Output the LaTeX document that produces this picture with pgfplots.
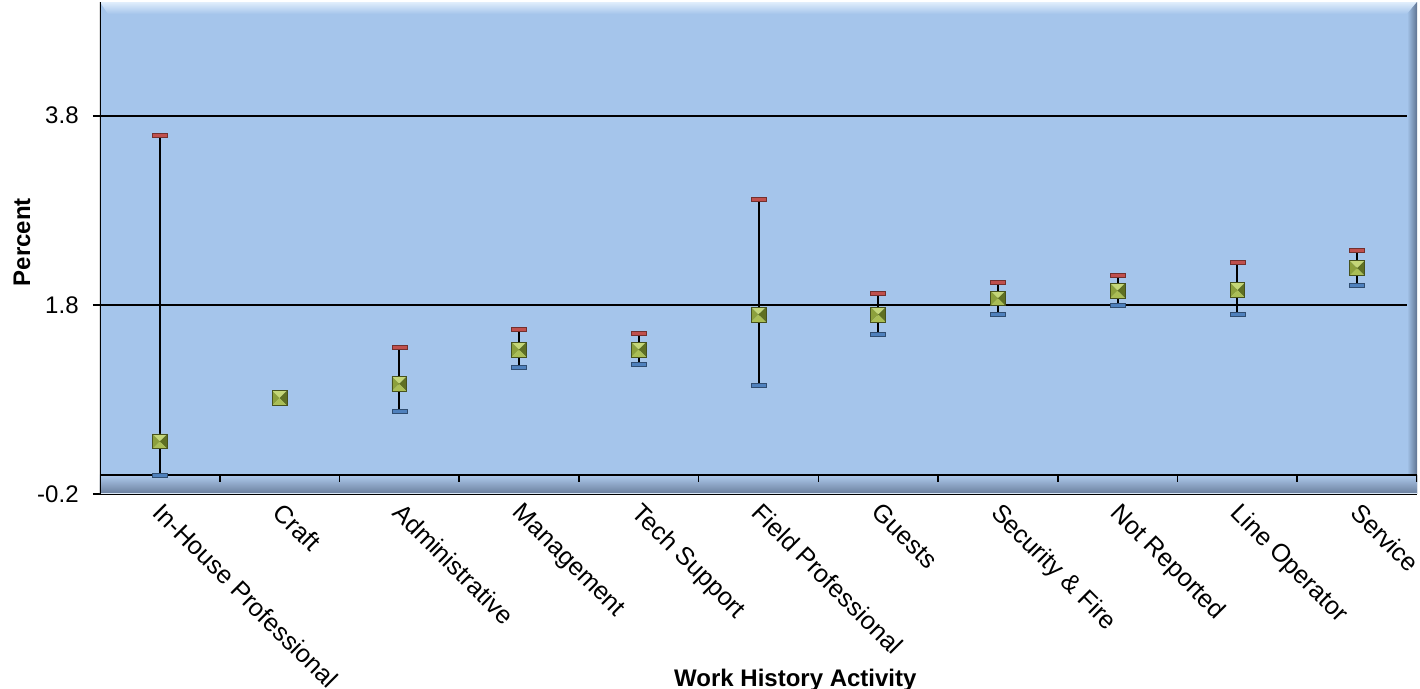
\documentclass[border=0pt]{standalone}
\usepackage{pgfplots}
\pgfplotsset{compat=1.18}
\usepackage{pgfplotstable}
\usepackage{fontspec}
\setmainfont{Liberation Sans}

\definecolor{bgblue}{RGB}{165,197,235}
\definecolor{hiblue}{RGB}{225,238,252}
\definecolor{rightdark}{RGB}{95,115,145}
\definecolor{floortop}{RGB}{175,203,238}
\definecolor{floorbot}{RGB}{105,125,155}
\definecolor{capred}{RGB}{192,80,77}
\definecolor{capblue}{RGB}{79,129,189}
\definecolor{pyrtop}{RGB}{196,214,120}
\definecolor{pyrleft}{RGB}{140,160,60}
\definecolor{pyrright}{RGB}{95,112,35}
\definecolor{pyrbot}{RGB}{170,190,85}
\definecolor{pyredge}{RGB}{70,82,30}

% square pyramid marker
\pgfdeclareplotmark{pyr}{%
  \pgfpathmoveto{\pgfqpoint{-\pgfplotmarksize}{\pgfplotmarksize}}%
  \pgfpathlineto{\pgfqpoint{\pgfplotmarksize}{\pgfplotmarksize}}%
  \pgfpathlineto{\pgfpointorigin}\pgfpathclose
  \pgfsetfillcolor{pyrtop}\pgfusepath{fill}%
  \pgfpathmoveto{\pgfqpoint{-\pgfplotmarksize}{\pgfplotmarksize}}%
  \pgfpathlineto{\pgfqpoint{-\pgfplotmarksize}{-\pgfplotmarksize}}%
  \pgfpathlineto{\pgfpointorigin}\pgfpathclose
  \pgfsetfillcolor{pyrleft}\pgfusepath{fill}%
  \pgfpathmoveto{\pgfqpoint{\pgfplotmarksize}{\pgfplotmarksize}}%
  \pgfpathlineto{\pgfqpoint{\pgfplotmarksize}{-\pgfplotmarksize}}%
  \pgfpathlineto{\pgfpointorigin}\pgfpathclose
  \pgfsetfillcolor{pyrright}\pgfusepath{fill}%
  \pgfpathmoveto{\pgfqpoint{-\pgfplotmarksize}{-\pgfplotmarksize}}%
  \pgfpathlineto{\pgfqpoint{\pgfplotmarksize}{-\pgfplotmarksize}}%
  \pgfpathlineto{\pgfpointorigin}\pgfpathclose
  \pgfsetfillcolor{pyrbot}\pgfusepath{fill}%
  \pgfsetlinewidth{0.4pt}\pgfsetstrokecolor{pyredge}%
  \pgfpathrectangle{\pgfqpoint{-\pgfplotmarksize}{-\pgfplotmarksize}}{\pgfqpoint{2\pgfplotmarksize}{2\pgfplotmarksize}}%
  \pgfusepath{stroke}%
}
% flat error cap
\pgfdeclareplotmark{cap}{%
  \pgfpathrectangle{\pgfqpoint{-3.75pt}{-1pt}}{\pgfqpoint{7.5pt}{2pt}}%
  \pgfusepathqfillstroke
}

% mean with lower and upper limits
\pgfplotstableread{
x y lo hi
0 0.356 0.000 3.590
1 0.813 0.813 0.813
2 0.964 0.679 1.347
3 1.326 1.136 1.540
4 1.326 1.175 1.494
5 1.695 0.946 2.911
6 1.695 1.491 1.923
7 1.867 1.699 2.042
8 1.948 1.790 2.113
9 1.955 1.695 2.250
10 2.187 2.008 2.377
}\worktable

\begin{document}
\begin{tikzpicture}
\begin{axis}[
  name=ax,
  scale only axis,
  width=658.5pt, height=246pt,
  xmin=-0.5, xmax=10.5,
  ymin=-0.2, ymax=5.0,
  axis background/.style={fill=bgblue},
  axis line style={draw=none},
  xtick={0,...,10},
  xticklabels={In-House Professional, Craft, Administrative, Management, Tech Support, Field Professional, Guests, Security \& Fire, Not Reported, Line Operator, Service},
  xtick pos=bottom, ytick pos=left,
  x tick style={draw=none},
  ytick={-0.2,1.8,3.8},
  y tick style={black, line width=1pt},
  tick align=outside, major tick length=3.5pt,
  ymajorgrids, grid style={black, line width=1pt},
  ticklabel style={font=\fontsize{12}{14}\selectfont},
  /pgf/number format/.cd, fixed, fixed zerofill, precision=1, assume math mode=true,
  /pgfplots/.cd,
  yticklabel style={inner sep=0pt, xshift=-7pt},
  xticklabel style={font=\fontsize{12.6}{14}\selectfont, xshift=2.5pt, yshift=1.5pt, rotate=-45, anchor=north west, inner sep=1pt},
  xlabel={Work History Activity},
  ylabel={Percent},
  label style={font=\bfseries\fontsize{12}{14}\selectfont},
  xlabel style={at={(axis description cs:0.528,-0.392)}, anchor=base},
  ylabel style={at={(axis description cs:-0.0592,0.512)}, anchor=center},
]
% bevelled frame
\shade[top color=hiblue, bottom color=bgblue]
  (axis cs:-0.5,5.0) -- (axis cs:10.5,5.0) -- ([shift={(-5pt,-6pt)}]axis cs:10.5,5.0)
  -- ([shift={(4pt,-6pt)}]axis cs:-0.5,5.0) -- cycle;
\shade[left color=bgblue, right color=rightdark]
  (axis cs:10.5,5.0) -- (axis cs:10.5,-0.2) -- ([shift={(-5pt,0pt)}]axis cs:10.5,0)
  -- ([shift={(-5pt,-6pt)}]axis cs:10.5,5.0) -- cycle;
\shade[top color=floortop, bottom color=floorbot]
  (axis cs:-0.5,0) rectangle (axis cs:10.5,-0.2);
\draw[white!60!bgblue, line width=0.8pt] (axis cs:-0.5,-0.2) -- (axis cs:10.5,-0.2);
\draw[line width=1pt] (axis cs:-0.5,-0.2) -- (axis cs:-0.5,5.0);
\draw[line width=1pt] (axis cs:-0.5,0) -- (axis cs:10.5,0);
\pgfplotsinvokeforeach{0.5,1.5,...,10.5}{%
  \draw[line width=0.8pt] (axis cs:#1,0) -- ([yshift=-3.5pt]axis cs:#1,0);}

\addplot[only marks, mark=cap, mark options={fill=capred, draw=capred!60!black, line width=0.3pt},
  skip coords between index={1}{2}] table[x=x, y=hi] {\worktable};
\addplot[only marks, mark=cap, mark options={fill=capblue, draw=capblue!60!black, line width=0.3pt},
  skip coords between index={1}{2}] table[x=x, y=lo] {\worktable};
\addplot[only marks, mark=pyr, mark size=3.7pt,
  error bars/.cd, y dir=both, y explicit, error mark=none,
  error bar style={black, line width=1pt}]
  table[x=x, y=y, y error plus expr=\thisrow{hi}-\thisrow{y}, y error minus expr=\thisrow{y}-\thisrow{lo}] {\worktable};
\end{axis}
\pgfresetboundingbox
\path[use as bounding box] ([shift={(-50pt,-97.5pt)}]ax.south west) rectangle ([shift={(1.5pt,1pt)}]ax.north east);
\end{tikzpicture}
\end{document}
